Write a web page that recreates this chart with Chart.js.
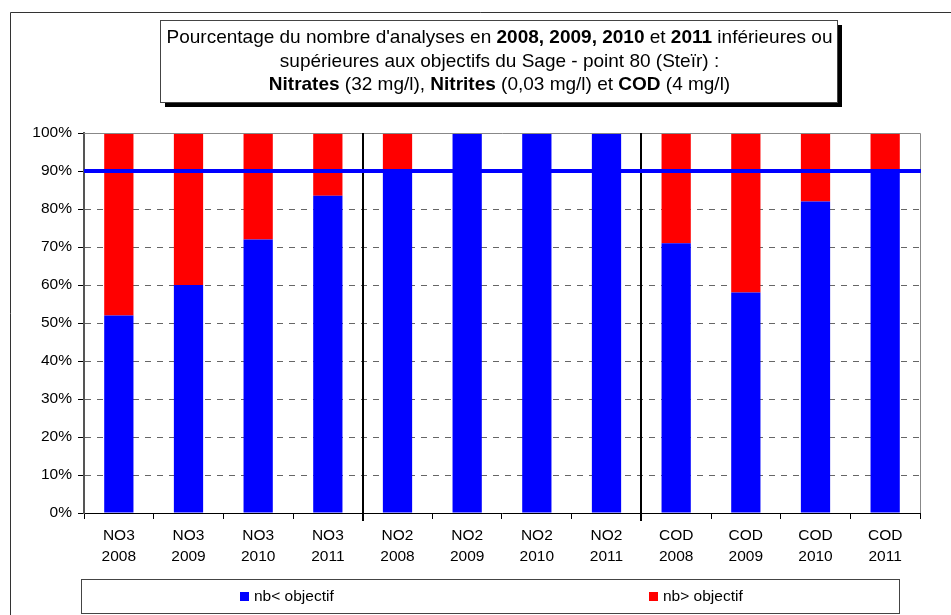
<!DOCTYPE html>
<html>
<head>
<meta charset="utf-8">
<script src="https://cdn.jsdelivr.net/npm/chart.js@4"></script>
<style>
  body { margin: 0; background: #fff; }
  canvas { display: block; }
</style>
</head>
<body>
<canvas id="chart" width="951" height="615"></canvas>
<script>
// categories (two line labels)
var categories = [
    ['NO3', '2008'], ['NO3', '2009'], ['NO3', '2010'], ['NO3', '2011'],
    ['NO2', '2008'], ['NO2', '2009'], ['NO2', '2010'], ['NO2', '2011'],
    ['COD', '2008'], ['COD', '2009'], ['COD', '2010'], ['COD', '2011']
];
var belowObjective = [52, 60, 72, 83.5, 90.5, 100, 100, 100, 71, 58, 82, 90.5];
var aboveObjective = [48, 40, 28, 16.5, 9.5, 0, 0, 0, 29, 42, 18, 9.5];
var seriesNames = ['nb< objectif', 'nb> objectif'];
var yTicks = [0, 10, 20, 30, 40, 50, 60, 70, 80, 90, 100];
var targetLine = 90;
var groupBreaks = [4, 8];

var titleLines = [
    [["Pourcentage du nombre d'analyses en ", false], ['2008, 2009, 2010', true], [' et ', false], ['2011', true], [' inférieures ou', false]],
    [['supérieures aux objectifs du Sage - point 80 (Steïr) :', false]],
    [['Nitrates', true], [' (32 mg/l), ', false], ['Nitrites', true], [' (0,03 mg/l) et ', false], ['COD', true], [' (4 mg/l)', false]]
];

var FONT = '"Liberation Sans", Arial, sans-serif';

// frame, title box, legend box, separators and target line
var decorations = {
    id: 'decorations',
    beforeDraw: function(chart) {
        var ctx = chart.ctx;
        ctx.save();
        ctx.fillStyle = '#fff';
        ctx.fillRect(0, 0, chart.width, chart.height);
        ctx.strokeStyle = '#333';
        ctx.lineWidth = 1;
        ctx.beginPath();
        ctx.moveTo(10.5, chart.height);
        ctx.lineTo(10.5, 12.5);
        ctx.lineTo(chart.width, 12.5);
        ctx.stroke();
        ctx.restore();
    },
    afterDatasetsDraw: function(chart) {
        var ctx = chart.ctx;
        var area = chart.chartArea;
        var x = chart.scales.x, y = chart.scales.y;
        ctx.save();
        // plot border
        ctx.strokeStyle = '#888';
        ctx.lineWidth = 1;
        ctx.beginPath();
        ctx.moveTo(area.left, area.top + 0.5);
        ctx.lineTo(area.right + 0.5, area.top + 0.5);
        ctx.lineTo(area.right + 0.5, area.bottom);
        ctx.stroke();
        // group separators
        var step = (area.right - area.left) / categories.length;
        ctx.strokeStyle = '#000';
        ctx.lineWidth = 2;
        groupBreaks.forEach(function(b) {
            var px = Math.round(x.getPixelForValue(b) - step / 2);
            ctx.beginPath();
            ctx.moveTo(px, area.top);
            ctx.lineTo(px, area.bottom + 8);
            ctx.stroke();
        });
        // 90% line
        var py = y.getPixelForValue(targetLine);
        ctx.strokeStyle = '#0000FF';
        ctx.lineWidth = 4;
        ctx.beginPath();
        ctx.moveTo(area.left, py);
        ctx.lineTo(area.right + 1, py);
        ctx.stroke();
        ctx.restore();
    },
    afterDraw: function(chart) {
        var ctx = chart.ctx;
        ctx.save();
        // title box with shadow
        var bx = 160, by = 20, bw = 677, bh = 82;
        ctx.fillStyle = '#000';
        ctx.fillRect(bx + 5, by + 5, bw, bh);
        ctx.fillStyle = '#fff';
        ctx.fillRect(bx, by, bw, bh);
        ctx.strokeStyle = '#444';
        ctx.lineWidth = 1;
        ctx.strokeRect(bx + 0.5, by + 0.5, bw, bh);
        ctx.fillStyle = '#000';
        ctx.textBaseline = 'middle';
        ctx.textAlign = 'left';
        var cx = bx + bw / 2 + 1;
        titleLines.forEach(function(line, i) {
            var total = 0;
            line.forEach(function(seg) {
                ctx.font = (seg[1] ? 'bold ' : '') + '19px ' + FONT;
                total += ctx.measureText(seg[0]).width;
            });
            var tx = cx - total / 2;
            var ty = by + 18 + i * 23.5;
            line.forEach(function(seg) {
                ctx.font = (seg[1] ? 'bold ' : '') + '19px ' + FONT;
                ctx.fillText(seg[0], tx, ty);
                tx += ctx.measureText(seg[0]).width;
            });
        });
        // legend box
        var lx = 81, ly = 579, lw = 818, lh = 34;
        ctx.strokeStyle = '#444';
        ctx.strokeRect(lx + 0.5, ly + 0.5, lw, lh);
        ctx.font = '15.5px ' + FONT;
        var items = [
            {x: 240, color: '#0000FF', text: seriesNames[0]},
            {x: 649, color: '#FF0000', text: seriesNames[1]}
        ];
        items.forEach(function(it) {
            ctx.fillStyle = it.color;
            ctx.fillRect(it.x, 592, 9, 9);
            ctx.fillStyle = '#000';
            ctx.fillText(it.text, it.x + 14, 597);
        });
        ctx.restore();
    }
};

new Chart(document.getElementById('chart'), {
    type: 'bar',
    data: {
        labels: categories,
        datasets: [{
            label: seriesNames[0],
            data: belowObjective,
            backgroundColor: '#0000FF',
            categoryPercentage: 1,
            barPercentage: 0.42
        }, {
            label: seriesNames[1],
            data: aboveObjective,
            backgroundColor: '#FF0000',
            categoryPercentage: 1,
            barPercentage: 0.42
        }]
    },
    options: {
        responsive: false,
        maintainAspectRatio: false,
        animation: false,
        layout: { padding: { top: 133, left: 0, right: 31, bottom: 42 } },
        plugins: {
            legend: { display: false },
            title: { display: false },
            tooltip: { enabled: false }
        },
        scales: {
            x: {
                stacked: true,
                afterFit: function(scale) { scale.height = 60; },
                grid: {
                    offset: true,
                    drawOnChartArea: false,
                    drawTicks: true,
                    tickLength: 6,
                    tickColor: '#000',
                    color: '#000'
                },
                border: { color: '#000', width: 1 },
                ticks: {
                    color: '#000',
                    padding: 7,
                    maxRotation: 0,
                    autoSkip: false,
                    font: { family: FONT, size: 15.5, lineHeight: 1.3 }
                }
            },
            y: {
                stacked: true,
                min: 0,
                max: 100,
                afterFit: function(scale) { scale.width = 84; },
                afterBuildTicks: function(scale) {
                    scale.ticks = yTicks.map(function(v) { return {value: v}; });
                },
                grid: {
                    color: function(c) { return c.tick && c.tick.value === 100 ? 'rgba(0,0,0,0)' : '#666'; },
                    tickBorderDash: [],
                    tickColor: '#000',
                    tickLength: 6,
                    lineWidth: 1
                },
                border: { color: '#555', width: 2, dash: [6, 6] },
                ticks: {
                    color: '#000',
                    padding: 6,
                    font: { family: FONT, size: 15.5 },
                    callback: function(v) { return v + '%'; }
                }
            }
        }
    },
    plugins: [decorations]
});
</script>
</body>
</html>
